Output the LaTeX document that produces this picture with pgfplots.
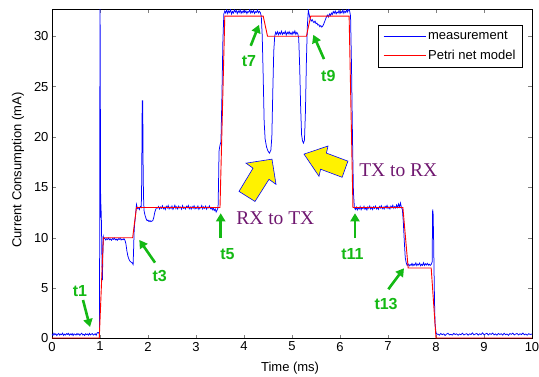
\documentclass[border=0pt]{standalone}
\usepackage{fontspec}
\setmainfont{Liberation Sans}
\newfontfamily\seriffont{Liberation Serif}
\usepackage{pgfplots}
\pgfplotsset{compat=1.18}
\usetikzlibrary{arrows.meta}
\definecolor{tgreen}{RGB}{20,185,20}
\definecolor{tpurple}{RGB}{112,24,112}
\begin{document}
\begin{tikzpicture}
\begin{axis}[
  scale only axis, width=480pt, height=329.5pt,
  xmin=0, xmax=10, ymin=0, ymax=32.7,
  xtick={0,1,...,10}, ytick={0,5,...,30},
  tick align=inside, major tick length=4pt,
  axis line style={line width=0.8pt},
  /pgf/number format/assume math mode=true,
  ticklabel style={font=\fontsize{13}{15}\selectfont},
  xlabel={Time (ms)}, ylabel={Current Consumption (mA)},
  label style={font=\fontsize{13}{15}\selectfont},
  xlabel style={at={(axis description cs:0.496,-0.091)}, anchor=center},
  ylabel style={at={(axis description cs:-0.0708,0.511)}, anchor=center},
  legend style={at={(axis description cs:0.981,0.951)}, anchor=north east,
    draw=black, line width=0.6pt, font=\fontsize{13}{15}\selectfont,
    inner xsep=5pt, inner ysep=4pt, row sep=5pt,
    /tikz/every even column/.append style={column sep=4pt}},
  legend cell align=left,
  legend image code/.code={\draw[#1] (0pt,0pt) -- (42pt,0pt);},
]
\addplot[blue, line width=0.75pt] table {
0.00 0.45
0.02 0.32
0.04 0.52
0.06 0.37
0.08 0.47
0.10 0.30
0.12 0.42
0.14 0.50
0.16 0.34
0.18 0.44
0.20 0.38
0.22 0.53
0.24 0.31
0.26 0.43
0.28 0.35
0.30 0.48
0.32 0.40
0.34 0.51
0.36 0.33
0.38 0.45
0.40 0.36
0.42 0.49
0.44 0.30
0.46 0.46
0.48 0.41
0.50 0.34
0.52 0.50
0.54 0.37
0.56 0.47
0.58 0.32
0.60 0.44
0.62 0.52
0.64 0.35
0.66 0.42
0.68 0.31
0.70 0.48
0.72 0.38
0.74 0.45
0.76 0.33
0.78 0.51
0.80 0.36
0.82 0.43
0.84 0.49
0.86 0.34
0.88 0.40
0.90 0.47
0.92 0.32
0.94 0.55
0.96 0.60
0.98 0.50
0.99 0.7
1.00 33.5
1.005 29
1.01 18
1.015 12
1.02 13.3
1.03 11.5
1.04 8
1.05 5.8
1.06 8.5
1.07 10.1
1.08 9.9
1.10 9.95
1.12 9.78
1.14 9.90
1.16 9.82
1.18 9.97
1.20 9.80
1.22 9.88
1.24 9.75
1.26 9.92
1.28 9.84
1.30 9.96
1.32 9.79
1.34 9.87
1.36 9.74
1.38 9.91
1.40 9.83
1.42 9.95
1.44 9.78
1.46 9.86
1.48 9.80
1.50 9.90
1.52 9.75
1.54 9.40
1.56 8.70
1.58 8.20
1.60 7.90
1.62 7.70
1.64 7.60
1.66 7.55
1.68 7.45
1.69 7.35
1.70 8.80
1.71 10.5
1.72 11.3
1.74 12.2
1.76 13.3
1.78 12.9
1.80 13.0
1.82 12.8
1.84 13.1
1.86 13.0
1.87 16.0
1.875 21.0
1.88 23.6
1.89 23.6
1.895 20.0
1.90 16.0
1.91 13.5
1.92 12.6
1.94 12.2
1.96 11.9
1.98 11.7
2.00 11.75
2.02 11.6
2.04 11.7
2.06 11.6
2.08 11.65
2.10 11.7
2.12 12.0
2.14 12.5
2.16 12.8
2.18 13.0
2.20 12.95
2.22 13.10
2.24 12.85
2.26 13.05
2.28 12.92
2.30 13.18
2.32 12.88
2.34 13.02
2.36 12.80
2.38 13.12
2.40 12.95
2.42 13.20
2.44 12.87
2.46 13.05
2.48 12.90
2.50 13.15
2.52 12.82
2.54 13.00
2.56 13.22
2.58 12.90
2.60 13.08
2.62 12.85
2.64 13.14
2.66 12.96
2.68 13.05
2.70 12.83
2.72 13.18
2.74 12.92
2.76 13.03
2.78 12.86
2.80 13.12
2.82 12.98
2.84 13.20
2.86 12.88
2.88 13.06
2.90 12.84
2.92 13.10
2.94 12.93
2.96 13.17
2.98 12.87
3.00 13.04
3.02 12.90
3.04 13.15
3.06 12.82
3.08 13.02
3.10 12.95
3.12 13.19
3.14 12.86
3.16 13.07
3.18 12.91
3.20 13.13
3.22 12.84
3.24 13.04
3.26 12.96
3.28 13.16
3.30 12.88
3.32 13.00
3.34 12.78
3.36 12.95
3.38 12.70
3.40 12.85
3.42 12.55
3.44 12.75
3.46 13.0
3.47 15.5
3.48 18.6
3.50 19.2
3.52 19.5
3.54 24.0
3.56 29.5
3.58 32.2
3.60 32.5
3.62 32.30
3.64 32.60
3.66 32.25
3.68 32.50
3.70 32.35
3.72 32.65
3.74 32.20
3.76 32.45
3.78 32.30
3.80 32.60
3.82 32.40
3.84 32.55
3.86 32.25
3.88 32.50
3.90 32.35
3.92 32.62
3.94 32.28
3.96 32.48
3.98 32.32
4.00 32.58
4.02 32.36
4.04 32.52
4.06 32.24
4.08 32.46
4.10 32.38
4.12 32.64
4.14 32.30
4.16 32.50
4.18 32.34
4.20 32.56
4.22 32.26
4.24 32.44
4.26 32.36
4.28 32.58
4.30 32.32
4.32 32.48
4.34 32.35
4.36 32.0
4.38 30.0
4.40 26.0
4.42 21.5
4.44 19.8
4.47 19.0
4.50 18.6
4.53 18.4
4.56 18.7
4.58 20.0
4.60 24.5
4.62 28.5
4.64 30.0
4.66 30.4
4.68 30.20
4.70 30.45
4.72 30.15
4.74 30.38
4.76 30.22
4.78 30.50
4.80 30.18
4.82 30.36
4.84 30.25
4.86 30.48
4.88 30.12
4.90 30.40
4.92 30.24
4.94 30.46
4.96 30.20
4.98 30.35
5.00 30.16
5.02 30.44
5.04 30.26
5.06 30.52
5.08 30.18
5.10 30.38
5.12 30.25
5.14 29.8
5.16 27.0
5.18 23.0
5.20 20.2
5.22 19.6
5.24 19.4
5.26 19.7
5.28 22.5
5.30 27.5
5.32 31.0
5.34 32.6
5.36 32.1
5.38 31.7
5.40 31.5
5.42 31.65
5.44 31.45
5.46 31.35
5.48 31.5
5.50 31.25
5.52 31.3
5.54 31.1
5.56 31.15
5.58 30.95
5.60 31.05
5.62 30.9
5.64 31.0
5.66 31.2
5.68 31.45
5.70 31.7
5.72 31.95
5.74 32.1
5.76 31.9
5.78 32.2
5.80 32.05
5.82 32.30
5.84 32.15
5.86 32.45
5.88 32.28
5.90 32.50
5.92 32.22
5.94 32.40
5.96 32.30
5.98 32.55
6.00 32.25
6.02 32.45
6.04 32.32
6.06 32.60
6.08 32.28
6.10 32.48
6.12 32.35
6.14 32.62
6.16 32.40
6.18 32.70
6.20 32.50
6.22 32.0
6.24 27.0
6.26 20.0
6.28 14.5
6.30 13.0
6.32 12.80
6.34 13.05
6.36 12.75
6.38 12.95
6.40 12.85
6.42 13.10
6.44 12.78
6.46 13.00
6.48 12.88
6.50 13.12
6.52 12.82
6.54 12.98
6.56 12.76
6.58 13.06
6.60 12.90
6.62 13.15
6.64 12.84
6.66 13.02
6.68 12.80
6.70 13.08
6.72 12.92
6.74 13.14
6.76 12.86
6.78 13.00
6.80 12.82
6.82 13.10
6.84 12.94
6.86 13.18
6.88 12.88
6.90 13.04
6.92 12.85
6.94 13.12
6.96 12.96
6.98 13.20
7.00 12.90
7.02 13.06
7.04 12.86
7.06 13.14
7.08 12.98
7.10 13.22
7.12 12.92
7.14 13.10
7.16 12.95
7.18 13.25
7.20 13.00
7.22 13.35
7.24 13.05
7.26 13.45
7.28 13.00
7.30 12.8
7.32 11.5
7.34 9.6
7.36 8.0
7.38 7.5
7.40 7.25
7.42 7.40
7.44 7.20
7.46 7.35
7.48 7.25
7.50 7.45
7.52 7.22
7.54 7.38
7.56 7.28
7.58 7.50
7.60 7.24
7.62 7.40
7.64 7.30
7.66 7.48
7.68 7.22
7.70 7.36
7.72 7.26
7.74 7.52
7.76 7.25
7.78 7.42
7.80 7.30
7.82 7.46
7.84 7.28
7.86 7.38
7.88 7.25
7.90 7.35
7.92 7.6
7.93 12.8
7.94 12.4
7.95 10.0
7.96 6.5
7.97 3.5
7.98 1.5
8.00 0.6
8.02 0.4
8.04 0.45
8.07 0.33
8.10 0.50
8.13 0.38
8.16 0.46
8.19 0.31
8.22 0.44
8.25 0.52
8.28 0.36
8.31 0.42
8.34 0.34
8.37 0.51
8.40 0.39
8.43 0.47
8.46 0.32
8.49 0.45
8.52 0.37
8.55 0.53
8.58 0.35
8.61 0.43
8.64 0.48
8.67 0.33
8.70 0.46
8.73 0.40
8.76 0.55
8.79 0.36
8.82 0.44
8.85 0.50
8.88 0.34
8.91 0.47
8.94 0.39
8.97 0.56
9.00 0.37
9.03 0.45
9.06 0.52
9.09 0.35
9.12 0.48
9.15 0.41
9.18 0.54
9.21 0.36
9.24 0.46
9.27 0.33
9.30 0.50
9.33 0.40
9.36 0.47
9.39 0.34
9.42 0.52
9.45 0.38
9.48 0.45
9.51 0.32
9.54 0.49
9.57 0.41
9.60 0.53
9.63 0.36
9.66 0.44
9.69 0.50
9.72 0.35
9.75 0.47
9.78 0.39
9.81 0.54
9.84 0.37
9.87 0.45
9.90 0.33
9.93 0.48
9.96 0.40
10.00 0.44
};
\addlegendentry{measurement}
\addplot[red, line width=0.9pt] coordinates {
(0,0.05) (0.985,0.05) (1.07,10) (1.68,10) (1.76,13) (3.5,13) (3.6,32)
(4.40,32) (4.49,30) (5.30,30) (5.39,32) (6.19,32) (6.27,13) (7.31,13)
(7.42,7) (7.90,7) (8.0,0.05) (10,0.05)
};
\addlegendentry{Petri net model}

% yellow block arrows
\filldraw[fill=yellow, draw=blue, line width=0.6pt]
  (axis cs:4.583,17.8) -- (axis cs:4.042,17.4) -- (axis cs:4.188,16.9)
  -- (axis cs:3.896,14.6) -- (axis cs:4.229,13.6) -- (axis cs:4.521,15.8)
  -- (axis cs:4.667,15.3) -- cycle;
\filldraw[fill=yellow, draw=blue, line width=0.6pt]
  (axis cs:5.25,18.3) -- (axis cs:5.75,19.1) -- (axis cs:5.717,18.4)
  -- (axis cs:6.165,17.6) -- (axis cs:6.044,16.0) -- (axis cs:5.596,16.8)
  -- (axis cs:5.5625,16.1) -- cycle;

% purple texts
\node[tpurple, font=\seriffont\fontsize{19.5}{22}\selectfont] at (axis cs:4.653,11.97) {RX to TX};
\node[tpurple, font=\seriffont\fontsize{19.5}{22}\selectfont] at (axis cs:7.215,16.70) {TX to RX};

% green arrows
\tikzset{garrow/.style={tgreen, line width=2.6pt, -{Triangle[length=8pt,width=9pt]}},
         glabel/.style={tgreen, font=\bfseries\fontsize{16}{18}\selectfont}}
\draw[garrow] (axis cs:0.646,3.82) -- (axis cs:0.792,1.14);
\node[glabel] at (axis cs:0.583,4.72) {t1};
\draw[garrow] (axis cs:2.146,7.53) -- (axis cs:1.819,9.78);
\node[glabel] at (axis cs:2.243,6.22) {t3};
\draw[garrow] (axis cs:3.515,9.95) -- (axis cs:3.515,12.43);
\node[glabel] at (axis cs:3.656,8.39) {t5};
\draw[garrow] (axis cs:6.3125,9.95) -- (axis cs:6.3125,12.43);
\node[glabel] at (axis cs:6.26,8.39) {t11};
\draw[garrow] (axis cs:7.007,4.89) -- (axis cs:7.333,6.97);
\node[glabel] at (axis cs:6.96,3.43) {t13};
\draw[garrow] (axis cs:4.14,29.05) -- (axis cs:4.3125,31.13);
\node[glabel] at (axis cs:4.104,27.56) {t7};
\draw[garrow] (axis cs:5.667,27.73) -- (axis cs:5.444,30.14);
\node[glabel] at (axis cs:5.757,26.07) {t9};
\end{axis}
\pgfresetboundingbox
\path[use as bounding box] (-52pt,-37.5pt) rectangle (487pt,338.5pt);
\end{tikzpicture}
\end{document}
